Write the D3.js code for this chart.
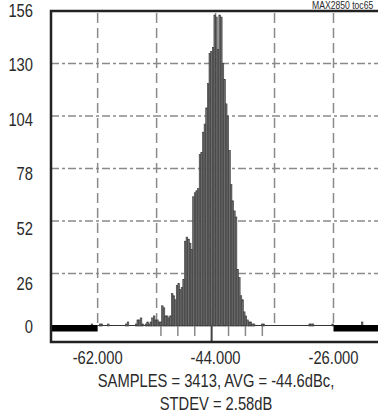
<!DOCTYPE html>
<html><head><meta charset="utf-8">
<script src="https://cdn.jsdelivr.net/npm/d3@7"></script>
<style>
html,body{margin:0;padding:0;background:#fff;}
svg{display:block;}
text{font-family:'Liberation Sans',Arial,sans-serif;fill:#2a2a2a;}
</style></head><body>
<script>
// ---- data ----
const binWidth = 0.25; // dB
const binStarts = [
 -63.0,-61.75,-61.5,-60.5,-57.75,-57.5,-56.25,-56.0,-55.75,-55.5,-55.25,
 -54.75,-54.5,-54.25,-54.0,-53.75,-53.5,-53.25,-53.0,-52.75,-52.5,-52.25,-52.0,
 -51.75,-51.5,-51.25,-51.0,-50.75,-50.5,-50.25,-50.0,-49.75,-49.5,-49.25,-49.0,
 -48.75,-48.5,-48.25,-48.0,-47.75,-47.5,-47.25,-47.0,-46.75,-46.5,-46.25,-46.0,
 -45.75,-45.5,-45.25,-45.0,-44.75,-44.5,-44.25,-44.0,-43.75,-43.5,-43.25,-43.0,
 -42.75,-42.5,-42.25,-42.0,-41.75,-41.5,-41.25,-41.0,-40.75,-40.5,-40.25,-40.0,
 -39.75,-39.5,-39.25,-39.0,-38.75,-38.5,-38.25,-37.0,-36.75,-29.75,-29.5,-29.25,
 -26.25,-21.75
];
const counts = [
 1,1,1,1,1,2,1,3,3,4,1,
 1,2,1,2,4,5,3,3,2,2,10,9,
 5,5,4,5,16,15,13,20,21,18,19,23,
 42,44,43,41,38,64,66,67,68,85,86,96,
 100,108,120,135,136,138,154,153,137,154,153,130,
 122,110,104,87,70,62,57,54,28,24,15,13,
 7,5,3,2,2,1,1,1,1,1,1,1,
 1,2
];
const yTicks = [0,26,52,78,104,130,156];
const xTicks = [-62,-53,-44,-35,-26];
const xTickLabels = ["-62.000","","-44.000","","-26.000"];
const outsideRanges = [[-69.12,-62],[-26,-18.9]];
const avg = -44.6, stdev = 2.58;
const sigmaMultiples = [-3,-2,-1,0,1,2,3];
const title = "MAX2850 toc65";
const statsLine1 = "SAMPLES = 3413, AVG = -44.6dBc,";
const statsLine2 = "STDEV = 2.58dB";

// ---- layout ----
const W = 378, H = 416;
const mLeft = 51, mRight = 380, mTop = 11, mBase = 326, mBottom = 342;
const narrow = 0.82;
const svg = d3.select("body").append("svg").attr("width", W).attr("height", H);

const x = d3.scaleLinear().domain([-69.12, -18.9]).range([mLeft, mRight]);
const y = d3.scaleLinear().domain([0, 156]).range([mBase, mTop]);
const labelY = d3.scaleLinear().domain([26, 156]).range([283, 10]);

function ntext(g, px, py, str, size, anchor) {
  return g.append("text")
    .attr("transform", `translate(${px},${py}) scale(${narrow},1)`)
    .attr("text-anchor", anchor).attr("font-size", size).text(str);
}

// grid
svg.append("g").selectAll("line").data(yTicks.filter(v => v > 0 && v < 156)).join("line")
  .attr("x1", mLeft).attr("x2", mRight).attr("y1", d => y(d)).attr("y2", d => y(d))
  .attr("stroke", "#8a8a8a").attr("stroke-width", 1.5).attr("stroke-dasharray", "8,3,3,3");
svg.append("g").selectAll("line").data(xTicks).join("line")
  .attr("x1", d => x(d)).attr("x2", d => x(d)).attr("y1", mTop + 2).attr("y2", mBase)
  .attr("stroke", "#8a8a8a").attr("stroke-width", 1.5).attr("stroke-dasharray", "10,5");

// baseline
svg.append("line").attr("x1", x(-62)).attr("x2", x(-26)).attr("y1", y(0) - 0.5).attr("y2", y(0) - 0.5)
  .attr("stroke", "#333").attr("stroke-width", 1);

// bars
const bw = x(binWidth) - x(0);
svg.append("g").selectAll("rect").data(binStarts.map((s, i) => ({s, c: counts[i]}))).join("rect")
  .attr("x", d => x(d.s)).attr("width", bw)
  .attr("y", d => y(d.c)).attr("height", d => y(0) - y(d.c))
  .attr("fill", "#6e6e6e").attr("stroke", "#3a3a3a").attr("stroke-width", 0.6);

// out-of-range thick bars
svg.append("g").selectAll("rect").data(outsideRanges).join("rect")
  .attr("x", d => x(d[0])).attr("width", d => x(d[1]) - x(d[0]))
  .attr("y", y(0) - 1).attr("height", 6.5).attr("fill", "#000");

// sigma ticks
svg.append("g").selectAll("line").data(sigmaMultiples).join("line")
  .attr("x1", k => x(avg + k * stdev)).attr("x2", k => x(avg + k * stdev))
  .attr("y1", y(0)).attr("y2", k => k === 0 ? mBottom : y(0) + 10)
  .attr("stroke", k => k === 0 ? "#444" : "#888").attr("stroke-width", k => k === 0 ? 2 : 1.5);

// frame
svg.append("path")
  .attr("d", `M${mRight},${mTop} H${mLeft} V${mBottom} H${mRight}`)
  .attr("fill", "none").attr("stroke", "#222").attr("stroke-width", 2.5);

// y labels
const gy = svg.append("g");
yTicks.forEach(v => ntext(gy, 33, (v === 0 ? y(0) : labelY(v)) + 6.5, v, 18, "end"));

// x labels
const gx = svg.append("g");
xTicks.forEach((v, i) => { if (xTickLabels[i]) ntext(gx, x(v), 364, xTickLabels[i], 18, "middle"); });

ntext(svg, 216, 387, statsLine1, 18, "middle");
ntext(svg, 216, 410, statsLine2, 18, "middle");
ntext(svg, 312, 9, title, 10.5, "start");
</script>
</body></html>
